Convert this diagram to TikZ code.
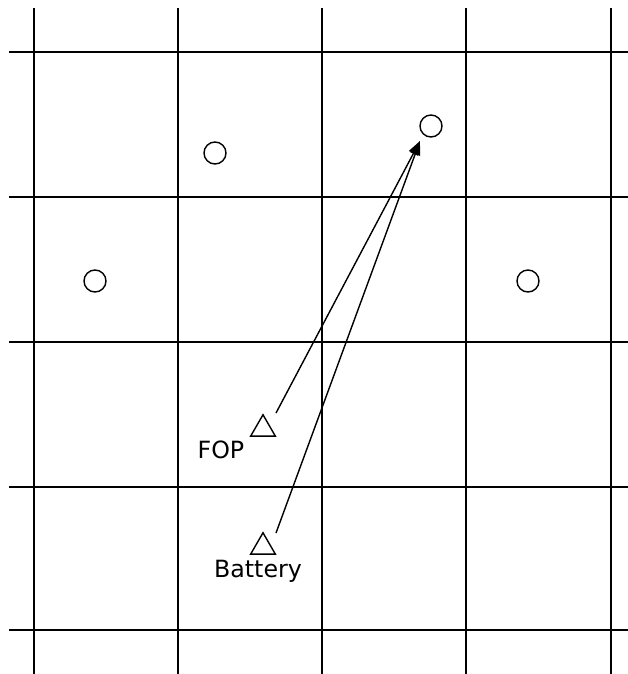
\documentclass[tikz,border=0pt]{standalone}
\usepackage{fontspec}
\setmainfont{DejaVu Sans}
\usetikzlibrary{arrows.meta, shapes.geometric}

\begin{document}
\begin{tikzpicture}[
        x=0.02cm, y=-0.02cm,
        grid/.style={line width=0.75pt, black},
        site/.style={circle, draw, line width=0.8pt, minimum size=0.44cm, inner sep=0pt},
        sensor/.style={regular polygon, regular polygon sides=3, draw, line width=0.8pt, minimum size=0.57cm, inner sep=0pt},
        link/.style={line width=0.8pt, -{Triangle[length=0.28cm, width=0.2cm]}},
        lab/.style={font=\fontsize{13.5}{15}\selectfont, inner sep=0pt}
      ]
        \useasboundingbox (0,0) rectangle (628,674);
        \foreach \x in {34,178,322,466,611} {
          \draw[grid] (\x,8) -- (\x,674);
        }
        \foreach \y in {52,197,342,487,630} {
          \draw[grid] (9,\y) -- (628,\y);
        }
        \node[site] (s1) at (215,153) {};
        \node[site] (s2) at (431,126) {};
        \node[site] (s3) at (95,281) {};
        \node[site] (s4) at (528,281) {};

        \node[sensor] (fop) at (263,429) {};
        \node[sensor] (bat) at (263,547) {};
        \node[lab] (foplab) at (221,450) {FOP};
        \node[lab] (batlab) at (258,571) {Battery};

        \coordinate (hit) at (420,141);
        \draw[link] (276,413) -- (hit);
        \draw[link] (276,533) -- (hit);
      \end{tikzpicture}
\end{document}
